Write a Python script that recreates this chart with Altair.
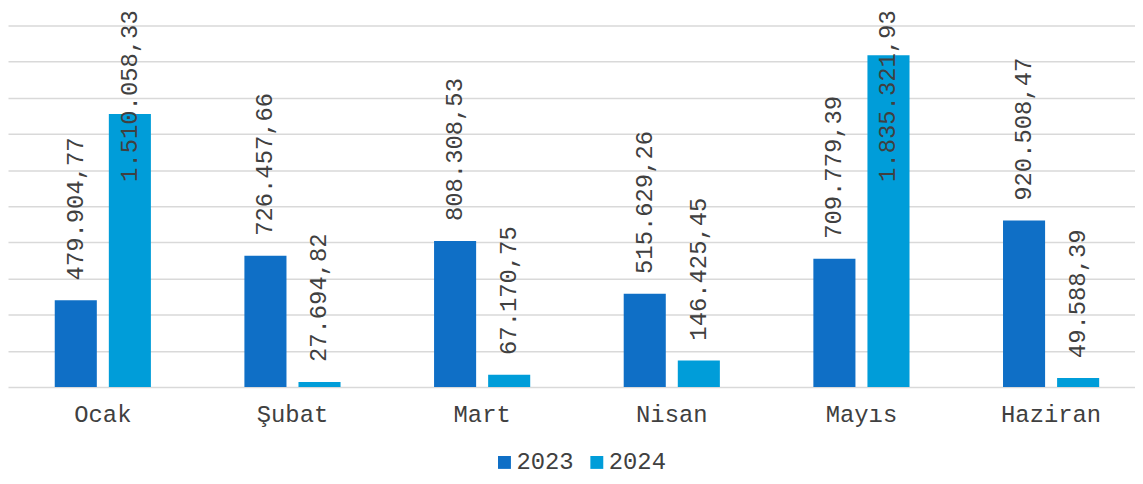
import altair as alt
import pandas as pd

months = ["Ocak", "Şubat", "Mart", "Nisan", "Mayıs", "Haziran"]
years = ["2023", "2024"]
v2023 = [479904.77, 726457.66, 808308.53, 515629.26, 709779.39, 920508.47]
v2024 = [1510058.33, 27694.82, 67170.75, 146425.45, 1835321.93, 49588.39]
grid_values = [0, 200000, 400000, 600000, 800000, 1000000, 1200000, 1400000, 1600000, 1800000, 2000000]
colors = ["#0F6FC6", "#009DD9"]


def tr_fmt(v):
    s = f"{v:,.2f}"
    return s.replace(",", "X").replace(".", ",").replace("X", ".")


rows = []
for i, m in enumerate(months):
    for y, vals in zip(years, [v2023, v2024]):
        rows.append({"month": m, "year": y, "value": vals[i], "label": tr_fmt(vals[i])})
df = pd.DataFrame(rows)

FONT = "Liberation Mono"
TXT = "#404040"

yscale = alt.Scale(domain=[0, 2000000], nice=False)
xscale = alt.Scale(paddingInner=0.493, paddingOuter=0.2465, range=[0, 1146])
xoscale = alt.Scale(paddingInner=0.222, paddingOuter=0)

xaxis = alt.Axis(labelFont=FONT, labelFontSize=24, labelColor=TXT, labelAngle=0,
                 ticks=False, domain=False, labelPadding=16, grid=False)
yaxis = alt.Axis(values=grid_values, labels=False, ticks=False, domain=False,
                 grid=True, gridColor="#D9D9D9", gridWidth=1.5)

base = alt.Chart(df)

bars = base.mark_bar().encode(
    x=alt.X("month:N", sort=months, title=None, scale=xscale, axis=xaxis),
    xOffset=alt.XOffset("year:N", sort=years, scale=xoscale),
    y=alt.Y("value:Q", title=None, scale=yscale, axis=yaxis),
    color=alt.Color("year:N", sort=years, title=None,
                    scale=alt.Scale(domain=years, range=colors),
                    legend=alt.Legend(orient="none", legendX=488, legendY=428, direction="horizontal",
                                      symbolType="square", symbolSize=169, symbolStrokeWidth=0,
                                      labelFont=FONT, labelFontSize=24, labelColor=TXT,
                                      labelOffset=0, columnPadding=11)),
)

labels = base.transform_calculate(
    ly="min(datum.value, 1025000)"
).mark_text(angle=270, align="left", baseline="middle", dx=20,
            font=FONT, fontSize=24, color=TXT).encode(
    x=alt.X("month:N", sort=months, title=None, scale=xscale, axis=xaxis),
    xOffset=alt.XOffset("year:N", sort=years, scale=xoscale),
    y=alt.Y("ly:Q", title=None, scale=yscale, axis=yaxis),
    text="label:N",
)

chart = alt.layer(bars, labels).properties(
    width=1135, height=364,
    background="white",
    autosize=alt.AutoSizeParams(type="none"),
    padding={"left": 0, "top": 16, "right": 0, "bottom": 88},
).configure_view(stroke=None)

chart.save("out.html", embed_options={"renderer": "svg", "actions": False})
